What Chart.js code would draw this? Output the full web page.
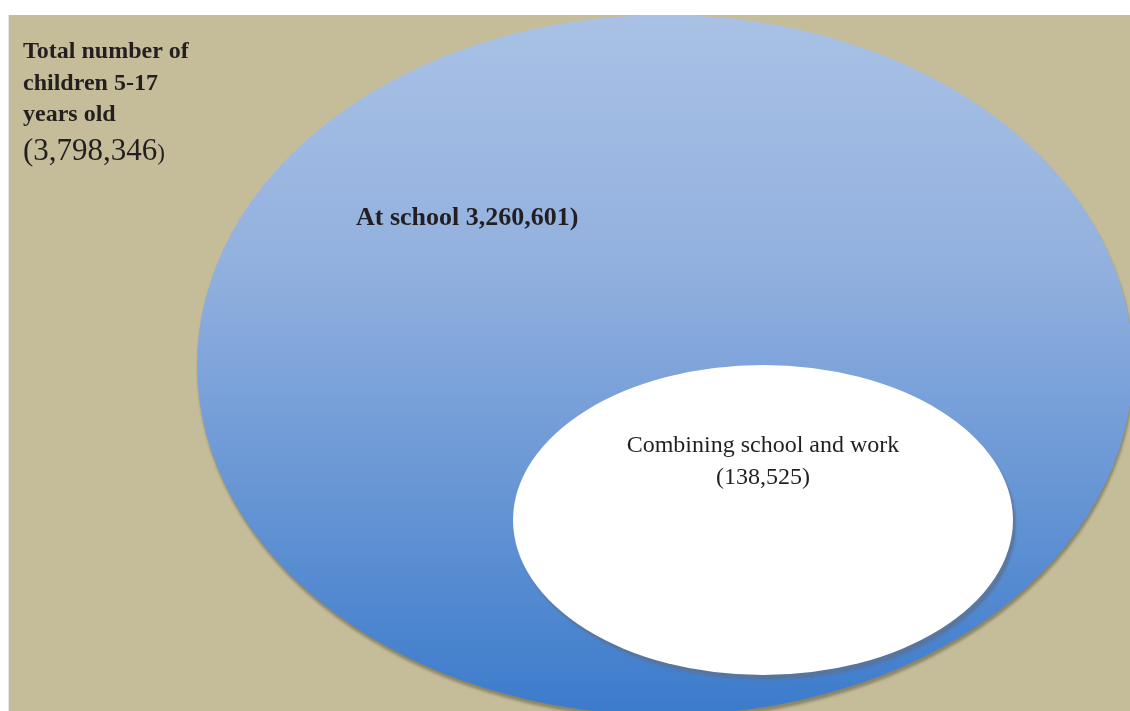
<!DOCTYPE html>
<html>
<head>
<meta charset="utf-8">
<script src="https://cdn.jsdelivr.net/npm/chart.js@4.4.1/dist/chart.umd.min.js"></script>
<style>
  html, body { margin: 0; padding: 0; background: #ffffff; }
  #venn_wrap { width: 1130px; height: 711px; }
</style>
</head>
<body>
<div id="venn_wrap"><canvas id="venn_plot" width="1130" height="711"></canvas></div>
<script>
// group names and counts (children 5-17)
const groupNames = ['Total number of children 5-17 years old', 'At school', 'Combining school and work'];
const groupCounts = [3798346, 3260601, 138525];

// ellipse geometry in axis units (x: 0-1121, y: 0-696 from top)
const ellipseCx = [656, 754];
const ellipseCy = [350, 505];
const ellipseRx = [468, 250];
const ellipseRy = [350, 155];

const fmt = n => n.toLocaleString('en-US');
const textColor = '#231f20';
const serif = '"Liberation Serif", "DejaVu Serif", serif';

function drawEllipse(ctx, chart, i) {
    const xs = chart.scales.x, ys = chart.scales.y;
    const cx = xs.getPixelForValue(ellipseCx[i]);
    const cy = ys.getPixelForValue(ellipseCy[i]);
    const rx = Math.abs(xs.getPixelForValue(ellipseCx[i] + ellipseRx[i]) - cx);
    const ry = Math.abs(ys.getPixelForValue(ellipseCy[i] + ellipseRy[i]) - cy);
    ctx.beginPath();
    ctx.ellipse(cx, cy, rx, ry, 0, 0, Math.PI * 2);
    return {cx, cy, rx, ry};
}

const vennPlugin = {
    id: 'venn',
    beforeDatasetsDraw(chart) {
        const ctx = chart.ctx;
        const area = chart.chartArea;
        const xs = chart.scales.x, ys = chart.scales.y;
        ctx.save();

        // faint frame line on the left
        ctx.fillStyle = '#e6e6e6';
        ctx.fillRect(area.left - 1, area.top, 1, area.bottom - area.top);

        ctx.beginPath();
        ctx.rect(area.left, area.top, area.right - area.left, area.bottom - area.top);
        ctx.clip();

        // tan background = all children
        ctx.fillStyle = '#c5bd99';
        ctx.fillRect(area.left, area.top, area.right - area.left, area.bottom - area.top);

        // at school
        const top = ys.getPixelForValue(ellipseCy[0] - ellipseRy[0]);
        const bottom = ys.getPixelForValue(ellipseCy[0] + ellipseRy[0]);
        const grad = ctx.createLinearGradient(0, top, 0, bottom);
        grad.addColorStop(0, '#a9c1e5');
        grad.addColorStop(0.35, '#93b1df');
        grad.addColorStop(0.7, '#6594d4');
        grad.addColorStop(1, '#3b7bcc');
        ctx.save();
        ctx.shadowColor = 'rgba(70, 65, 45, 0.45)';
        ctx.shadowBlur = 3;
        ctx.shadowOffsetX = 1;
        ctx.shadowOffsetY = 4;
        drawEllipse(ctx, chart, 0);
        ctx.fillStyle = grad;
        ctx.fill();
        ctx.restore();

        // combining school and work
        ctx.save();
        ctx.shadowColor = 'rgba(90, 115, 150, 0.8)';
        ctx.shadowBlur = 2;
        ctx.shadowOffsetX = 3;
        ctx.shadowOffsetY = 5;
        drawEllipse(ctx, chart, 1);
        ctx.fillStyle = '#ffffff';
        ctx.fill();
        ctx.restore();

        // labels
        ctx.fillStyle = textColor;
        ctx.textBaseline = 'alphabetic';
        ctx.textAlign = 'left';
        ctx.font = 'bold 24px ' + serif;
        const tx = xs.getPixelForValue(14);
        ['Total number of', 'children 5-17', 'years old'].forEach((line, k) => {
            ctx.fillText(line, tx, ys.getPixelForValue(43 + k * 31.5));
        });
        ctx.font = '31px ' + serif;
        const totalTxt = '(' + fmt(groupCounts[0]);
        ctx.fillText(totalTxt, tx, ys.getPixelForValue(145));
        const w = ctx.measureText(totalTxt).width;
        ctx.font = '23px ' + serif;
        ctx.fillText(')', tx + w, ys.getPixelForValue(145));

        ctx.font = 'bold 26px ' + serif;
        ctx.fillText(groupNames[1] + ' ' + fmt(groupCounts[1]) + ')', xs.getPixelForValue(347), ys.getPixelForValue(210));

        ctx.textAlign = 'center';
        ctx.font = '24px ' + serif;
        const lx = xs.getPixelForValue(ellipseCx[1]);
        ctx.fillText(groupNames[2], lx, ys.getPixelForValue(437));
        ctx.fillText('(' + fmt(groupCounts[2]) + ')', lx, ys.getPixelForValue(469));

        ctx.restore();
    }
};

new Chart(document.getElementById('venn_plot').getContext('2d'), {
    type: 'scatter',
    data: { datasets: [] },
    options: {
        responsive: false,
        animation: false,
        layout: { padding: { left: 9, top: 15, right: 0, bottom: 0 } },
        plugins: {
            legend: { display: false },
            tooltip: { enabled: false }
        },
        scales: {
            x: { type: 'linear', min: 0, max: 1121, display: false },
            y: { type: 'linear', min: 0, max: 696, reverse: true, display: false }
        }
    },
    plugins: [vennPlugin]
});
</script>
</body>
</html>
